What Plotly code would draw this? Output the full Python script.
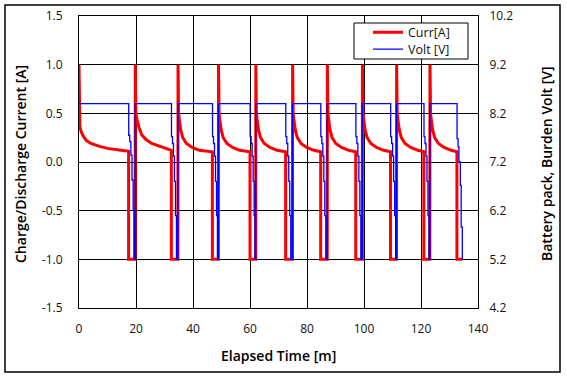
import plotly.graph_objects as go

# ---------------- data ----------------
curr_time = [
    0.0, 0.05, 0.3, 0.8, 1.4, 2.6, 4.2, 7.2, 10.0, 13.5, 17.4, 17.4,
    19.7, 19.75, 19.95, 20.3, 21.0, 22.0, 23.5, 25.5, 28.5, 31.0, 32.4, 32.4,
    34.7, 34.75, 34.95, 35.3, 35.7, 36.4, 37.7, 39.7, 42.2, 46.8, 46.8,
    48.9, 48.95, 49.15, 49.5, 49.9, 50.6, 51.9, 53.9, 56.4, 60.0, 60.0,
    62.0, 62.05, 62.25, 62.6, 63.0, 63.7, 65.0, 67.0, 69.5, 72.5, 72.5,
    74.9, 74.95, 75.15, 75.5, 75.9, 76.6, 77.9, 79.9, 82.4, 84.8, 84.8,
    87.1, 87.15, 87.35, 87.7, 88.1, 88.8, 90.1, 92.1, 94.6, 97.1, 97.1,
    99.4, 99.45, 99.65, 100.0, 100.4, 101.1, 102.4, 104.4, 106.9, 109.3, 109.3,
    111.4, 111.45, 111.65, 112.0, 112.4, 113.1, 114.4, 116.4, 118.9, 121.0, 121.0,
    123.1, 123.15, 123.35, 123.7, 124.1, 124.8, 126.1, 128.1, 130.6, 132.6, 132.6,
    134.5,
]
curr_value = [
    1.0, 0.42, 0.36, 0.31, 0.27, 0.22, 0.19, 0.16, 0.14, 0.125, 0.11, -1.0,
    -1.0, 1.0, 0.50, 0.44, 0.36, 0.28, 0.23, 0.19, 0.16, 0.13, 0.12, -1.0,
    -1.0, 1.0, 0.50, 0.41, 0.33, 0.25, 0.19, 0.15, 0.12, 0.105, -1.0,
    -1.0, 1.0, 0.50, 0.41, 0.33, 0.25, 0.19, 0.15, 0.12, 0.105, -1.0,
    -1.0, 1.0, 0.50, 0.41, 0.33, 0.25, 0.19, 0.15, 0.12, 0.105, -1.0,
    -1.0, 1.0, 0.50, 0.41, 0.33, 0.25, 0.19, 0.15, 0.12, 0.105, -1.0,
    -1.0, 1.0, 0.50, 0.41, 0.33, 0.25, 0.19, 0.15, 0.12, 0.105, -1.0,
    -1.0, 1.0, 0.50, 0.41, 0.33, 0.25, 0.19, 0.15, 0.12, 0.105, -1.0,
    -1.0, 1.0, 0.50, 0.41, 0.33, 0.25, 0.19, 0.15, 0.12, 0.105, -1.0,
    -1.0, 1.0, 0.50, 0.41, 0.33, 0.25, 0.19, 0.15, 0.12, 0.105, -1.0,
    -1.0,
]

volt_time = [
    0.0, 17.45, 17.8, 18.2, 18.6, 19.0, 19.3,
    19.7, 32.45, 32.8, 33.15, 33.5, 33.85, 34.2,
    34.7, 46.85, 47.2, 47.55, 47.9, 48.25, 48.6,
    48.9, 60.05, 60.4, 60.75, 61.1, 61.45, 61.75,
    62.0, 72.55, 72.9, 73.25, 73.6, 73.95, 74.3,
    74.9, 84.85, 85.2, 85.55, 85.9, 86.25, 86.6,
    87.1, 97.15, 97.5, 97.85, 98.2, 98.55, 98.9,
    99.4, 109.35, 109.7, 110.05, 110.4, 110.75, 111.1,
    111.4, 121.05, 121.4, 121.75, 122.1, 122.45, 122.8,
    123.1, 132.65, 133.0, 133.3, 133.8, 134.1, 134.5,
]
volt_value = [
    8.4, 7.75, 7.62, 7.34, 6.83, 6.21, 5.2,
    8.4, 7.72, 7.58, 7.32, 6.8, 6.1, 5.2,
    8.4, 7.72, 7.58, 7.32, 6.8, 6.1, 5.2,
    8.4, 7.72, 7.58, 7.32, 6.8, 6.1, 5.2,
    8.4, 7.72, 7.58, 7.32, 6.8, 6.1, 5.2,
    8.4, 7.72, 7.58, 7.32, 6.8, 6.1, 5.2,
    8.4, 7.72, 7.58, 7.32, 6.8, 6.1, 5.2,
    8.4, 7.72, 7.58, 7.32, 6.8, 6.1, 5.2,
    8.4, 7.72, 7.58, 7.32, 6.8, 6.1, 5.2,
    8.4, 7.68, 7.51, 7.2, 6.72, 5.86, 5.2,
]

x_ticks = [0, 20, 40, 60, 80, 100, 120, 140]
y1_ticks = [-1.5, -1.0, -0.5, 0.0, 0.5, 1.0, 1.5]
y1_labels = ["-1.5", "-1.0", "-0.5", "0.0", "0.5", "1.0", "1.5"]
y2_ticks = [4.2, 5.2, 6.2, 7.2, 8.2, 9.2, 10.2]
y2_labels = ["4.2", "5.2", "6.2", "7.2", "8.2", "9.2", "10.2"]

series_names = ["Curr[A]", "Volt [V]"]
x_title = "Elapsed Time [m]"
y1_title = "Charge/Discharge Current [A]"
y2_title = "Battery pack, Burden Volt [V]"

# ---------------- layout geometry (pixels) ----------------
W, H = 567, 378
L, R, T, B = 79, 478, 16, 308
FONT = "Open Sans, sans-serif"

def px_x(p):
    return (p - L) / (R - L)

def px_y(p):
    return 1 - (p - T) / (B - T)

fig = go.Figure()
fig.add_trace(go.Scatter(
    x=curr_time, y=curr_value, name=series_names[0], mode="lines",
    line=dict(color="#ff0000", width=3), yaxis="y", legend="legend",
))
fig.add_trace(go.Scatter(
    x=volt_time, y=volt_value, name=series_names[1], mode="lines",
    line=dict(color="#0000ff", width=1.3, shape="hv"), yaxis="y2",
    legend="legend2",
))

axis_common = dict(
    showgrid=True, gridcolor="black", gridwidth=1,
    showline=True, linecolor="black", linewidth=1,
    zeroline=False, ticks="outside", tickcolor="rgba(0,0,0,0)",
    tickfont=dict(family=FONT, size=12, color="#111111"),
    automargin=False,
)

legend_style = dict(
    xanchor="left", yanchor="middle",
    bgcolor="rgba(0,0,0,0)", borderwidth=0,
    font=dict(family=FONT, size=12.5, color="#111111"),
)

fig.update_layout(
    width=W, height=H,
    margin=dict(l=L, r=W - R, t=T, b=H - B, autoexpand=False),
    paper_bgcolor="white", plot_bgcolor="white",
    font=dict(family=FONT, color="black"),
    showlegend=True,
    legend=dict(x=px_x(368), y=px_y(32.5), **legend_style),
    legend2=dict(x=px_x(368), y=px_y(49.5), **legend_style),
    xaxis=dict(
        range=[0, 140], tickvals=x_ticks, ticklen=10, mirror=True,
        **axis_common,
    ),
    yaxis=dict(
        range=[-1.5, 1.5], tickvals=y1_ticks, ticktext=y1_labels,
        ticklen=13, **axis_common,
    ),
    yaxis2=dict(
        range=[4.2, 10.2], tickvals=y2_ticks, ticktext=y2_labels,
        overlaying="y", side="right", ticklen=8, **axis_common,
    ),
)
fig.update_yaxes(showgrid=False, selector=dict(overlaying="y"))

title_font = dict(family=FONT, size=14, color="black", weight=600)
fig.add_annotation(text=x_title, xref="paper", yref="paper",
                   x=px_x((L + R) / 2), y=px_y(355), showarrow=False,
                   xanchor="center", yanchor="middle", font=title_font)
fig.add_annotation(text=y1_title, xref="paper", yref="paper",
                   x=px_x(20), y=px_y(164), showarrow=False,
                   textangle=-90, xanchor="center", yanchor="middle",
                   font=title_font)
fig.add_annotation(text=y2_title, xref="paper", yref="paper",
                   x=px_x(546), y=px_y(164), showarrow=False,
                   textangle=-90, xanchor="center", yanchor="middle",
                   font=title_font)

# legend frame (the legend entries are drawn by plotly inside it)
fig.add_shape(type="rect", xref="paper", yref="paper",
              x0=px_x(354), x1=px_x(468), y0=px_y(59), y1=px_y(23),
              line=dict(color="black", width=1), fillcolor="white",
              layer="above")
# outer frame
fig.add_shape(type="rect", xref="paper", yref="paper",
              x0=px_x(5), x1=px_x(560), y0=px_y(372), y1=px_y(5),
              line=dict(color="black", width=1.5), fillcolor="rgba(0,0,0,0)",
              layer="below")

fig.write_html(
    "out.html",
    config={"displayModeBar": False},
    post_script="document.body.style.margin='0';document.body.style.padding='0';",
)
